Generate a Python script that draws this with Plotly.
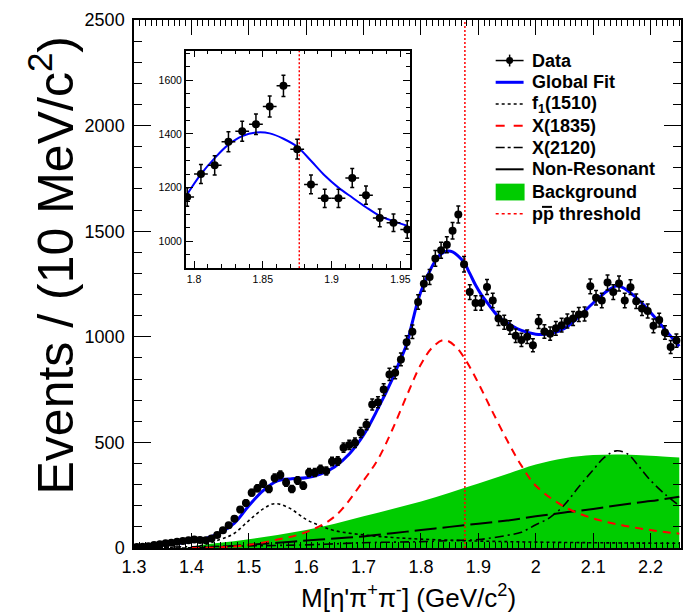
import numpy as np
import plotly.graph_objects as go

# ---------------- data ----------------
bin_centers = [round(1.305 + 0.01 * i, 3) for i in range(95)]
events = [
    5, 6, 8, 14, 18, 22, 25, 30, 33, 37,
    40, 38, 37, 45, 61, 84, 108, 139, 182, 213,
    262, 283, 305, 279, 332, 346, 310, 279, 320, 295,
    357, 357, 373, 365, 410, 412, 475, 488, 498, 547,
    584, 679, 690, 750, 822, 830, 893, 974, 1024, 1165,
    1251, 1283, 1371, 1410, 1436, 1502, 1579, 1343, 1212, 1160,
    1160, 1236, 1172, 1087, 1069, 1044, 1005, 985, 1000, 960,
    1072, 1025, 1015, 1040, 1055, 1075, 1087, 1106, 1108, 1239,
    1185, 1172, 1257, 1212, 1252, 1172, 1235, 1168, 1134, 1122,
    1052, 1079, 1020, 952, 982,
]
events_err = [float(np.sqrt(max(v, 1))) for v in events]

fit_mass = [1.30, 1.325, 1.35, 1.375, 1.40, 1.425, 1.45, 1.475, 1.50, 1.525,
            1.55, 1.575, 1.60, 1.625, 1.65, 1.675, 1.70, 1.725, 1.75, 1.76,
            1.775, 1.785, 1.795, 1.805, 1.815, 1.825, 1.835, 1.845, 1.855, 1.865,
            1.875, 1.885, 1.895, 1.905, 1.915, 1.925, 1.935, 1.945, 1.955, 1.975,
            2.00, 2.025, 2.05, 2.075, 2.10, 2.125, 2.14, 2.15, 2.175, 2.20,
            2.225, 2.25]
global_fit = [3, 8, 15, 22, 30, 45, 72, 118, 200, 272,
              318, 328, 333, 350, 385, 445, 535, 660, 800, 865,
              965, 1070, 1175, 1250, 1310, 1360, 1392, 1405, 1402, 1382,
              1352, 1300, 1245, 1200, 1163, 1127, 1095, 1075, 1058, 1030,
              1012, 1015, 1040, 1095, 1160, 1218, 1240, 1235, 1185, 1115,
              1035, 955]

f1_mass = [1.30, 1.35, 1.40, 1.45, 1.475, 1.50, 1.525, 1.545, 1.57, 1.60,
           1.625, 1.65, 1.70, 1.75, 1.80, 1.90, 2.00, 2.10, 2.25]
f1_1510 = [0, 1, 3, 40, 70, 130, 185, 210, 190, 135,
           105, 82, 62, 50, 42, 33, 28, 25, 22]

x1835_mass = [1.40, 1.45, 1.50, 1.55, 1.60, 1.65, 1.70, 1.725, 1.75, 1.775,
              1.80, 1.82, 1.84, 1.86, 1.88, 1.90, 1.92, 1.95, 1.975, 2.00,
              2.05, 2.10, 2.15, 2.20, 2.25]
x1835 = [0, 3, 15, 40, 75, 150, 320, 420, 560, 720,
         870, 950, 985, 955, 880, 780, 670, 510, 390, 295,
         195, 140, 108, 85, 68]

x2120_mass = [1.30, 1.45, 1.60, 1.70, 1.80, 1.85, 1.90, 1.95, 1.975, 2.00,
              2.025, 2.05, 2.075, 2.10, 2.12, 2.14, 2.16, 2.18, 2.20, 2.225,
              2.25]
x2120 = [2, 8, 15, 25, 30, 35, 40, 60, 75, 110,
         145, 205, 290, 370, 430, 460, 445, 385, 320, 255,
         200]

nonres_mass = [1.40, 1.45, 1.50, 1.55, 1.60, 1.65, 1.70, 1.75, 1.80, 1.85,
               1.90, 1.95, 2.00, 2.05, 2.10, 2.15, 2.20, 2.25]
non_resonant = [0, 5, 15, 25, 35, 45, 55, 70, 85, 100,
                115, 130, 150, 168, 185, 205, 222, 243]

bkg_mass = [1.30, 1.39, 1.40, 1.42, 1.45, 1.50, 1.55, 1.60, 1.65, 1.70,
            1.75, 1.80, 1.85, 1.90, 1.95, 2.00, 2.05, 2.10, 2.15, 2.20,
            2.25]
background = [0, 0, 5, 15, 25, 42, 62, 85, 115, 150,
              185, 220, 262, 305, 350, 395, 425, 440, 443, 437,
              428]

pp_threshold = 1.8765

x_tickvals = [1.3, 1.4, 1.5, 1.6, 1.7, 1.8, 1.9, 2.0, 2.1, 2.2]
x_ticktext = ["1.3", "1.4", "1.5", "1.6", "1.7", "1.8", "1.9", "2", "2.1", "2.2"]
y_tickvals = [0, 500, 1000, 1500, 2000, 2500]
y_ticktext = ["0", "500", "1000", "1500", "2000", "2500"]

inset_x_tickvals = [1.8, 1.85, 1.9, 1.95]
inset_x_ticktext = ["1.8", "1.85", "1.9", "1.95"]
inset_y_tickvals = [1000, 1200, 1400, 1600]
inset_y_ticktext = ["1000", "1200", "1400", "1600"]

legend_labels = ["Data", "Global Fit", "f<sub>1</sub>(1510)", "X(1835)", "X(2120)",
                 "Non-Resonant", "Background", "pp threshold"]

# ---------------- styles ----------------
FONT = "Liberation Sans, Arial, Helvetica, sans-serif"
BLUE = "#0000ff"
RED = "#ff0000"
GREEN = "#00cc00"

W, H = 693, 614
ML, MR, MT, MB = 134, 10, 14, 66
PW, PH = W - ML - MR, H - MT - MB


def px(xp):
    return (xp - ML) / PW


def py(yp):
    return (H - MB - yp) / PH


fig = go.Figure()

# main panel
fig.add_trace(go.Scatter(x=bkg_mass, y=background, mode="lines", line=dict(width=0, color=GREEN, shape="spline"),
                         fill="tozeroy", fillcolor=GREEN, hoverinfo="skip"))
fig.add_trace(go.Scatter(x=nonres_mass, y=non_resonant, mode="lines",
                         line=dict(color="black", width=2, dash="22px,6px", shape="spline")))
fig.add_trace(go.Scatter(x=x2120_mass, y=x2120, mode="lines",
                         line=dict(color="black", width=1.6, dash="9px,4px,2px,4px", shape="spline")))
fig.add_trace(go.Scatter(x=f1_mass, y=f1_1510, mode="lines",
                         line=dict(color="black", width=1.6, dash="3px,3px", shape="spline")))
fig.add_trace(go.Scatter(x=x1835_mass, y=x1835, mode="lines",
                         line=dict(color=RED, width=2, dash="8px,6px", shape="spline")))
fig.add_trace(go.Scatter(x=[pp_threshold, pp_threshold], y=[0, 2500], mode="lines",
                         line=dict(color=RED, width=1.5, dash="2px,2px")))
fig.add_trace(go.Scatter(x=fit_mass, y=global_fit, mode="lines",
                         line=dict(color=BLUE, width=3, shape="spline")))
fig.add_trace(go.Scatter(x=bin_centers, y=events, mode="markers",
                         marker=dict(color="black", size=8),
                         error_y=dict(type="data", array=events_err, color="black", thickness=1.5, width=2),
                         error_x=dict(type="constant", value=0.005, color="black", thickness=1.5, width=0)))

# inset panel (zoom around the threshold)
xin_lo, xin_hi = 1.794, 1.957
in_x = [m for m in bin_centers if xin_lo <= m <= xin_hi]
in_y = [v for m, v in zip(bin_centers, events) if xin_lo <= m <= xin_hi]
in_e = [e for m, e in zip(bin_centers, events_err) if xin_lo <= m <= xin_hi]
fit_in_x = [m for m in fit_mass if 1.79 <= m <= 1.96]
fit_in_y = [v for m, v in zip(fit_mass, global_fit) if 1.79 <= m <= 1.96]

fig.add_trace(go.Scatter(x=[pp_threshold, pp_threshold], y=[900, 1710], mode="lines",
                         line=dict(color=RED, width=1.5, dash="2px,2px"), xaxis="x2", yaxis="y2"))
fig.add_trace(go.Scatter(x=fit_in_x, y=fit_in_y, mode="lines", line=dict(color=BLUE, width=2, shape="spline"),
                         xaxis="x2", yaxis="y2"))
fig.add_trace(go.Scatter(x=in_x, y=in_y, mode="markers", marker=dict(color="black", size=8),
                         error_y=dict(type="data", array=in_e, color="black", thickness=1.5, width=2),
                         error_x=dict(type="constant", value=0.005, color="black", thickness=1.5, width=0),
                         xaxis="x2", yaxis="y2"))

axis_common = dict(showline=True, linecolor="black", linewidth=1.5, mirror="ticks", ticks="inside",
                   tickcolor="black", showgrid=False, zeroline=False)

fig.update_layout(
    width=W, height=H, margin=dict(l=ML, r=MR, t=MT, b=MB),
    paper_bgcolor="white", plot_bgcolor="white", showlegend=False,
    font=dict(family=FONT, color="black"),
    xaxis=dict(range=[1.3, 2.253], tickvals=x_tickvals, ticktext=x_ticktext, ticklen=15, tickwidth=1.2,
               tickfont=dict(size=18), ticklabelstandoff=2,
               minor=dict(dtick=0.01, tick0=1.3, ticklen=6, ticks="inside", tickcolor="black", tickwidth=1),
               **axis_common),
    yaxis=dict(range=[0, 2500], tickvals=y_tickvals, ticktext=y_ticktext, ticklen=17, tickwidth=1.2,
               tickfont=dict(size=18), ticklabelstandoff=4,
               minor=dict(dtick=100, tick0=0, ticklen=8, ticks="inside", tickcolor="black", tickwidth=1),
               **axis_common),
    xaxis2=dict(domain=[px(186), px(411)], anchor="y2", range=[xin_lo, xin_hi],
                tickvals=inset_x_tickvals, ticktext=inset_x_ticktext, ticklen=7, tickwidth=1,
                tickfont=dict(size=10.5),
                minor=dict(dtick=0.01, tick0=1.8, ticklen=4, ticks="inside", tickcolor="black"),
                **axis_common),
    yaxis2=dict(domain=[py(265), py(45)], anchor="x2", range=[900, 1710],
                tickvals=inset_y_tickvals, ticktext=inset_y_ticktext, ticklen=7, tickwidth=1,
                tickfont=dict(size=10.5),
                minor=dict(dtick=50, tick0=0, ticklen=4, ticks="inside", tickcolor="black"),
                **axis_common),
)

# axis titles
fig.add_annotation(text="Events / (10 MeV/c<sup>2</sup>)", xref="paper", yref="paper",
                   x=px(52), y=py(262), textangle=-90, showarrow=False,
                   font=dict(size=50, family=FONT), xanchor="center", yanchor="middle")
fig.add_annotation(text="M[\u03b7'\u03c0<sup>+</sup>\u03c0<sup>-</sup>] (GeV/c<sup>2</sup>)",
                   xref="paper", yref="paper", x=px(410), y=py(597), showarrow=False,
                   font=dict(size=26, family=FONT), xanchor="center", yanchor="middle")

# legend
row_y = [55, 77, 99, 121, 143, 165, 188, 210]
sx0, sx1, tx = 497, 525, 531
line_styles = [
    None,
    dict(color=BLUE, width=3),
    dict(color="black", width=1.5, dash="dot"),
    dict(color=RED, width=2, dash="dash"),
    dict(color="black", width=1.5, dash="dashdot"),
    dict(color="black", width=2),
    None,
    dict(color=RED, width=1.5, dash="dot"),
]
for i, (label, yy) in enumerate(zip(legend_labels, row_y)):
    if i == 0:
        fig.add_shape(type="line", xref="paper", yref="paper", x0=px(sx0), x1=px(sx1), y0=py(yy), y1=py(yy),
                      line=dict(color="black", width=1.5))
        fig.add_shape(type="line", xref="paper", yref="paper", x0=px(511), x1=px(511), y0=py(yy - 6), y1=py(yy + 6),
                      line=dict(color="black", width=1.5))
        fig.add_shape(type="circle", xref="paper", yref="paper", x0=px(507.5), x1=px(514.5),
                      y0=py(yy + 3.5), y1=py(yy - 3.5), fillcolor="black", line=dict(color="black", width=0))
    elif i == 6:
        fig.add_shape(type="rect", xref="paper", yref="paper", x0=px(sx0), x1=px(sx1 + 1),
                      y0=py(yy + 8.5), y1=py(yy - 8.5), fillcolor=GREEN, line=dict(width=0))
    else:
        fig.add_shape(type="line", xref="paper", yref="paper", x0=px(sx0), x1=px(sx1), y0=py(yy), y1=py(yy),
                      line=line_styles[i])
    fig.add_annotation(text="<b>" + label + "</b>", xref="paper", yref="paper", x=px(tx), y=py(yy),
                       xanchor="left", yanchor="middle", showarrow=False, font=dict(size=18, family=FONT))

# bar over the second "p" of the threshold label (anti-proton)
bar_y = row_y[7] - 7
fig.add_shape(type="line", xref="paper", yref="paper", x0=px(tx + 12.5), x1=px(tx + 22.5),
              y0=py(bar_y), y1=py(bar_y), line=dict(color="black", width=2))

fig.write_html("out.html")
